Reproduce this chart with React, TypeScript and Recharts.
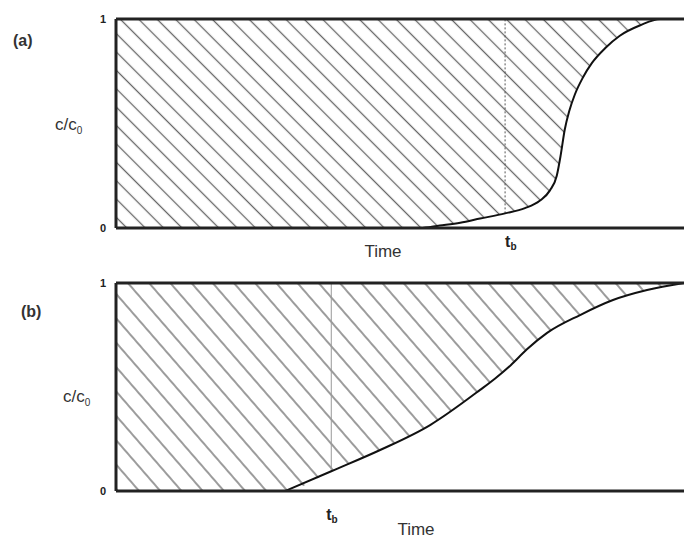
import React from 'react';
import { ComposedChart, Area, Line, XAxis, YAxis, ReferenceLine } from 'recharts';

// panel (a): sharp breakthrough curve
const timeA = [0, 53.5, 57, 60.6, 64.1, 68.5, 72, 74.6, 76.4, 77.6, 78.3, 79, 79.8, 80.8, 82.2, 83.8, 86.1, 88.7, 92.3, 95.8, 100];
const concA = [0, 0, 0.012, 0.025, 0.045, 0.07, 0.095, 0.13, 0.18, 0.25, 0.35, 0.47, 0.56, 0.64, 0.72, 0.79, 0.86, 0.92, 0.97, 1, 1];
const tbA = 68.5;
const startA = 0; // curve drawn from this time on

// panel (b): spread breakthrough curve
const timeB = [0, 29.8, 37.9, 46.5, 55.3, 64.1, 66.7, 69.5, 72.3, 75.9, 81.7, 87.5, 93.5, 100];
const concB = [0, 0, 0.095, 0.197, 0.317, 0.486, 0.54, 0.605, 0.68, 0.76, 0.846, 0.918, 0.966, 1];
const tbB = 37.9;
const startB = 29.8;

const yTicks = [0, 1];
const FONT = '"Liberation Sans", Arial, Helvetica, sans-serif';

const buildRows = (time: number[], conc: number[], start: number) =>
  time.map((t, i) => ({ t, c: t >= start ? conc[i] : null, band: [conc[i], 1] }));

const YTick = (props: any) => {
  const { x, y, payload } = props;
  return (
    <text x={x} y={y} dy={4} textAnchor="end" fontSize={11} fontWeight="bold" fill="#222" fontFamily={FONT}>
      {payload.value}
    </text>
  );
};

const TbTick = (props: any) => {
  const { x, y, off, dx } = props;
  return (
    <text x={x + dx} y={y + off} fontSize={16} fontWeight="bold" fill="#222" fontFamily={FONT}>
      t<tspan fontSize={10} dy={3}>b</tspan>
    </text>
  );
};

const TimeTitle = (props: any) => {
  const { viewBox, cx, off } = props;
  return (
    <text x={cx} y={viewBox.y + off} textAnchor="middle" fontSize={17} fill="#333" fontFamily={FONT}>
      Time
    </text>
  );
};

const ConcTitle = (props: any) => {
  const { cx, cy } = props;
  return (
    <text x={cx} y={cy + 5} fontSize={17} fill="#333" fontFamily={FONT}>
      c/c<tspan fontSize={10} dy={4}>0</tspan>
    </text>
  );
};

interface PanelProps {
  id: string;
  tag: string;
  time: number[];
  conc: number[];
  start: number;
  tb: number;
  top: number;
  height: number;
  marginTop: number;
  axisHeight: number;
  hatchSpacing: number;
  hatchAngle: number;
  tbOff: number;
  tbDx: number;
  timeX: number;
  timeOff: number;
  concY: number;
  concX: number;
  tagX: number;
  tagY: number;
  tbLine: { stroke: string; dash?: string };
}

function Panel(p: PanelProps) {
  const rows = buildRows(p.time, p.conc, p.start);
  const tbValue = p.conc[p.time.indexOf(p.tb)];
  return (
    <div style={{ position: 'absolute', left: 0, top: p.top, width: 684, height: p.height }}>
      <ComposedChart
        width={684}
        height={p.height}
        data={rows}
        margin={{ top: p.marginTop, right: 0, bottom: 0, left: 0 }}
      >
        <defs>
          <pattern
            id={p.id}
            patternUnits="userSpaceOnUse"
            width={p.hatchSpacing}
            height={p.hatchSpacing}
            patternTransform={`rotate(${p.hatchAngle})`}
          >
            <line x1={p.hatchSpacing / 2} y1={0} x2={p.hatchSpacing / 2} y2={p.hatchSpacing} stroke="#666" strokeWidth={1.3} />
          </pattern>
        </defs>
        <XAxis
          dataKey="t"
          type="number"
          domain={[0, 100]}
          ticks={[p.tb]}
          tick={<TbTick off={p.tbOff} dx={p.tbDx} />}
          tickLine={false}
          tickSize={0}
          tickMargin={0}
          height={p.axisHeight}
          axisLine={{ stroke: '#222', strokeWidth: 3 }}
          label={<TimeTitle cx={p.timeX} off={p.timeOff} />}
        />
        <YAxis
          type="number"
          domain={[0, 1]}
          ticks={yTicks}
          tick={<YTick />}
          tickLine={false}
          tickSize={0}
          tickMargin={10}
          width={116}
          axisLine={{ stroke: '#222', strokeWidth: 3 }}
          label={<ConcTitle cx={p.concX} cy={p.concY} />}
        />
        <Area
          dataKey="band"
          type="monotone"
          fill={`url(#${p.id})`}
          fillOpacity={1}
          stroke="none"
          isAnimationActive={false}
        />
        <ReferenceLine
          segment={[{ x: p.tb, y: tbValue }, { x: p.tb, y: 1 }]}
          stroke={p.tbLine.stroke}
          strokeWidth={1}
          strokeDasharray={p.tbLine.dash}
        />
        <Line
          dataKey="c"
          type="monotone"
          stroke="#111"
          strokeWidth={2}
          dot={false}
          connectNulls={false}
          isAnimationActive={false}
        />
        <ReferenceLine y={1} stroke="#222" strokeWidth={3} />
      </ComposedChart>
      <div
        style={{
          position: 'absolute',
          left: p.tagX,
          top: p.tagY,
          fontFamily: FONT,
          fontWeight: 'bold',
          fontSize: 16,
          color: '#333',
        }}
      >
        {p.tag}
      </div>
    </div>
  );
}

export default function App() {
  return (
    <div style={{ position: 'absolute', left: 0, top: 0, width: 684, height: 541, background: '#fff' }}>
      <Panel
        id="hatchA"
        tag="(a)"
        time={timeA}
        conc={concA}
        start={startA}
        tb={tbA}
        top={0}
        height={270}
        marginTop={19}
        axisHeight={42}
        hatchSpacing={13}
        hatchAngle={-45}
        tbOff={19}
        tbDx={0}
        timeX={383}
        timeOff={29}
        concY={125}
        concX={55}
        tagX={13}
        tagY={32}
        tbLine={{ stroke: '#555', dash: '2 2' }}
      />
      <Panel
        id="hatchB"
        tag="(b)"
        time={timeB}
        conc={concB}
        start={startB}
        tb={tbB}
        top={270}
        height={271}
        marginTop={13}
        axisHeight={50}
        hatchSpacing={16}
        hatchAngle={-41}
        tbOff={29}
        tbDx={-5}
        timeX={416}
        timeOff={44}
        concY={127}
        concX={63}
        tagX={21}
        tagY={33}
        tbLine={{ stroke: '#999' }}
      />
    </div>
  );
}
